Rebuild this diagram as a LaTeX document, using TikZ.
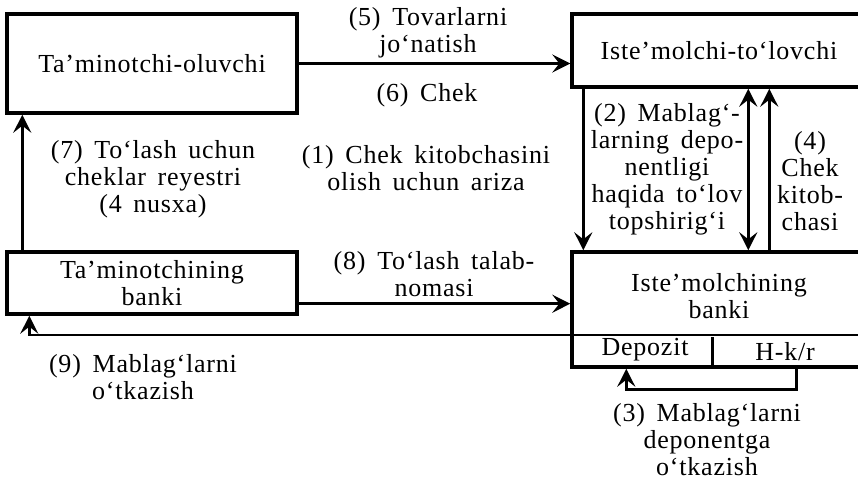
\documentclass[tikz,border=0pt]{standalone}
\usepackage{fontspec}
\setmainfont{Liberation Serif}[LetterSpace=3,WordSpace={1.6}]
\usetikzlibrary{arrows.meta}
\begin{document}
\begin{tikzpicture}[x=1pt,y=-1pt,
  every node/.style={font=\fontsize{26}{27}\selectfont},
  box/.style={draw,line width=3.4pt,inner sep=0pt,align=center},
  tip/.tip={Stealth[length=18pt,width=18pt,inset=7pt]},
  arr/.style={line width=2.6pt,-tip},
  darr/.style={line width=2.6pt,tip-tip},
  plainline/.style={line width=2.6pt},
  lbl/.style={align=center,inner sep=0pt}]
\useasboundingbox (0,0) rectangle (858,481);
\clip (0,0) rectangle (858,481);
% boxes
\node[box,minimum width=290pt,minimum height=99pt] (A) at (152,63.5) {Ta’minotchi-oluvchi};
\node[box,minimum width=294pt,minimum height=73pt] (B) at (719,50.5) {Iste’molchi-to‘lovchi};
\node[box,minimum width=290pt,minimum height=62pt] (C) at (152,283) {Ta’minotchining\\banki};
\node[box,minimum width=294pt,minimum height=115pt] (D) at (719,309.5) {};
\node[lbl] (Dt) at (719,296) {Iste’molchining\\banki};
\node[lbl] (Dep) at (645,350) {Depozit};
\node[lbl] (Hkr) at (785,352) {H-k/r};
\coordinate (sepR) at (870,335);
\draw[plainline] ([xshift=142pt]D.south west) -- ++(0,-32);
% connectors
\draw[arr] (A.east) -- (A.east -| B.west);
\draw[arr] ([yshift=12pt]C.south east) -- ([yshift=12pt]C.south east -| D.west);
\draw[arr] (sepR) -| ([xshift=24pt]C.south west);
\draw[arr] ([xshift=17pt]C.north west) -- ([xshift=17pt]A.south west);
\draw[arr] ([xshift=13pt]B.south west) -- ([xshift=13pt]D.north west);
\draw[darr] ([xshift=178pt]B.south west) -- ([xshift=178pt]D.north west);
\draw[arr] ([xshift=199pt]D.north west) -- ([xshift=199pt]B.south west);
\draw[arr] ([xshift=226pt]D.south west) -- ++(0,21) -| ([xshift=56pt]D.south west);
% labels
\node[lbl] (l5) at (428,33) {(5) Tovarlarni\\jo‘natish};
\node[lbl] (l6) at (427,95) {(6) Chek};
\node[lbl] (l1) at (426,168) {(1) Chek kitobchasini\\olish uchun ariza};
\node[lbl] (l7) at (153,179) {(7) To‘lash uchun\\cheklar reyestri\\(4 nusxa)};
\node[lbl] (l2) at (667,169) {(2) Mablag‘-\\larning depo-\\nentligi\\haqida to‘lov\\topshirig‘i};
\node[lbl] (l4) at (810,181) {(4)\\Chek\\kitob-\\chasi};
\node[lbl] (l8) at (434,274) {(8) To‘lash talab-\\nomasi};
\node[lbl] (l9) at (143,377) {(9) Mablag‘larni\\o‘tkazish};
\node[lbl] (l3) at (707,440) {(3) Mablag‘larni\\deponentga\\o‘tkazish};
\end{tikzpicture}
\end{document}
